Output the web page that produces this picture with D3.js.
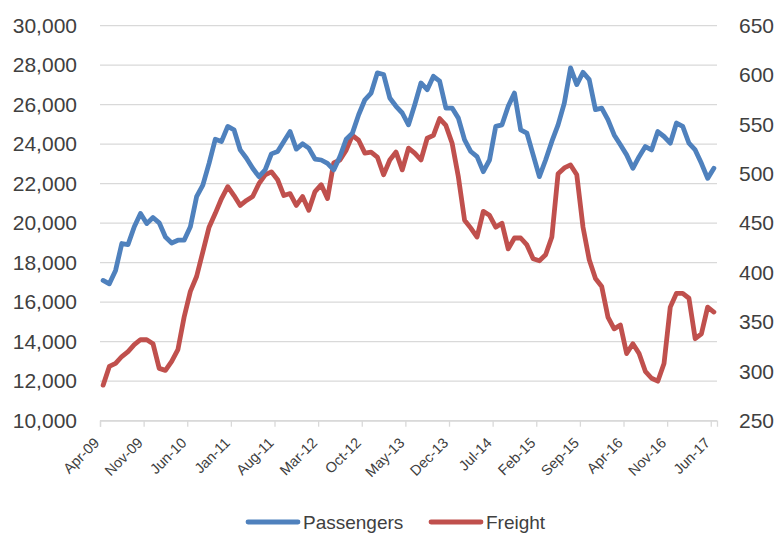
<!DOCTYPE html>
<html>
<head>
<meta charset="utf-8">
<script src="https://cdn.jsdelivr.net/npm/d3@7"></script>
<style>
  body { margin: 0; background: #fff; }
  text { font-family: "Liberation Sans", Arial, sans-serif; fill: #404040; }
</style>
</head>
<body>
<script>
// monthly series, Apr-09 .. Jun-17 (99 months)
var passengers = [
  17100, 16930, 17610, 18970, 18920, 19820, 20490, 19980, 20290, 20020,
  19300, 19000, 19140, 19140, 19820, 21340, 21930, 23030, 24250, 24140,
  24900, 24730, 23710, 23290, 22780, 22360, 22700, 23510, 23630, 24140,
  24640, 23750, 24020, 23800, 23250, 23200, 23030, 22700, 23370, 24250,
  24560, 25490, 26250, 26590, 27610, 27530, 26340, 25920, 25580, 24980,
  26000, 27100, 26760, 27440, 27190, 25830, 25830, 25320, 24220, 23630,
  23370, 22610, 23200, 24900, 24980, 25920, 26590, 24730, 24560, 23460,
  22360, 23200, 24140, 24980, 26080, 27860, 27020, 27640, 27270, 25750,
  25830, 25240, 24470, 23970, 23460, 22780, 23370, 23880, 23710, 24640,
  24390, 24050, 25070, 24900, 24050, 23710, 23030, 22270, 22780
];

var freight = [
  286, 305, 308, 315, 320, 327, 332, 332, 328, 303,
  301, 310, 322, 355, 381, 396, 421, 446, 460, 475,
  487, 478, 468, 473, 477, 490, 499, 502, 494, 478,
  480, 468, 477, 463, 482, 489, 475, 511, 514, 524,
  539, 534, 521, 522, 517, 499, 514, 522, 504, 526,
  521, 514, 536, 539, 556, 549, 531, 497, 453, 445,
  436, 462, 458, 446, 450, 424, 435, 435, 428, 414,
  412, 418, 436, 500, 506, 509, 499, 446, 413, 394,
  386, 355, 343, 347, 318, 328, 318, 300, 293, 290,
  308, 365, 379, 379, 374, 333, 338, 365, 360
];

var seriesNames = ["Passengers", "Freight"];
var seriesColors = ["#4F81BD", "#C0504D"];

var leftTicks = [10000, 12000, 14000, 16000, 18000, 20000, 22000, 24000, 26000, 28000, 30000];
var rightTicks = [250, 300, 350, 400, 450, 500, 550, 600, 650];
var tickLabels = ["Apr-09", "Nov-09", "Jun-10", "Jan-11", "Aug-11", "Mar-12", "Oct-12",
  "May-13", "Dec-13", "Jul-14", "Feb-15", "Sep-15", "Apr-16", "Nov-16", "Jun-17"];

var W = 777, H = 533;
var plot = {left: 100, right: 717, top: 25.7, bottom: 420.7};

var svg = d3.select("body").append("svg")
    .attr("width", W)
    .attr("height", H);

var months = d3.range(passengers.length);

// categories sit between tick marks
var x = d3.scalePoint().domain(months).range([plot.left, plot.right]).padding(0.5);
var xb = d3.scaleLinear().domain([0, months.length]).range([plot.left, plot.right]);
var yL = d3.scaleLinear().domain([10000, 30000]).range([plot.bottom, plot.top]);
var yR = d3.scaleLinear().domain([250, 650]).range([plot.bottom, plot.top]);

// gridlines
svg.append("g")
  .selectAll("line")
  .data(leftTicks)
  .enter().append("line")
    .attr("x1", plot.left)
    .attr("x2", plot.right)
    .attr("y1", function(d) { return yL(d); })
    .attr("y2", function(d) { return yL(d); })
    .attr("stroke", "#D9D9D9")
    .attr("stroke-width", 1.3);

// left axis labels
svg.append("g")
  .attr("transform", "translate(" + 77 + ",0)")
  .call(d3.axisLeft(yL).tickValues(leftTicks).tickSize(0).tickPadding(0).tickFormat(d3.format(",")))
  .call(function(g) { g.select(".domain").remove(); })
  .selectAll("text")
    .style("font-size", "21px")
    .attr("fill", "#3b3b3b");

// right axis labels
svg.append("g")
  .attr("transform", "translate(" + 739 + ",0)")
  .call(d3.axisRight(yR).tickValues(rightTicks).tickSize(0).tickPadding(0))
  .call(function(g) { g.select(".domain").remove(); })
  .selectAll("text")
    .style("font-size", "21px")
    .attr("fill", "#3b3b3b");

// x axis tick marks, every 7 months on category boundaries
var tickIdx = d3.range(0, months.length, 7);
svg.append("g")
  .attr("transform", "translate(0," + plot.bottom + ")")
  .call(d3.axisBottom(xb).tickValues(tickIdx).tickSize(6).tickFormat(""))
  .call(function(g) {
    g.select(".domain").attr("stroke", "#D9D9D9").attr("stroke-width", 1.3);
    g.selectAll(".tick line").attr("stroke", "#D9D9D9").attr("stroke-width", 1.3);
  });

// rotated month labels
svg.append("g")
  .selectAll("text")
  .data(tickIdx)
  .enter().append("text")
    .attr("transform", function(d) {
      return "translate(" + (x(d) - 3) + "," + (plot.bottom + 23) + ")rotate(-45)";
    })
    .attr("text-anchor", "end")
    .style("font-size", "14.5px")
    .attr("fill", "#3b3b3b")
    .text(function(d, i) { return tickLabels[i]; });

// lines
var lineL = d3.line()
    .x(function(d, i) { return x(i); })
    .y(function(d) { return yL(d); });
var lineR = d3.line()
    .x(function(d, i) { return x(i); })
    .y(function(d) { return yR(d); });

svg.append("path")
  .datum(freight)
  .attr("d", lineR)
  .attr("fill", "none")
  .attr("stroke", seriesColors[1])
  .attr("stroke-width", 4.8)
  .attr("stroke-linejoin", "round")
  .attr("stroke-linecap", "round");

svg.append("path")
  .datum(passengers)
  .attr("d", lineL)
  .attr("fill", "none")
  .attr("stroke", seriesColors[0])
  .attr("stroke-width", 4.8)
  .attr("stroke-linejoin", "round")
  .attr("stroke-linecap", "round");

// legend
var legendX = [248, 431];
var legend = svg.append("g")
  .selectAll("g")
  .data(seriesNames)
  .enter().append("g")
    .attr("transform", function(d, i) { return "translate(" + legendX[i] + ",522)"; });

legend.append("line")
  .attr("x1", 0).attr("x2", 50)
  .attr("stroke", function(d, i) { return seriesColors[i]; })
  .attr("stroke-width", 4.8)
  .attr("stroke-linecap", "round");

legend.append("text")
  .attr("x", 55)
  .attr("dy", "0.35em")
  .style("font-size", "19px")
  .attr("fill", "#3b3b3b")
  .text(function(d) { return d; });
</script>
</body>
</html>
